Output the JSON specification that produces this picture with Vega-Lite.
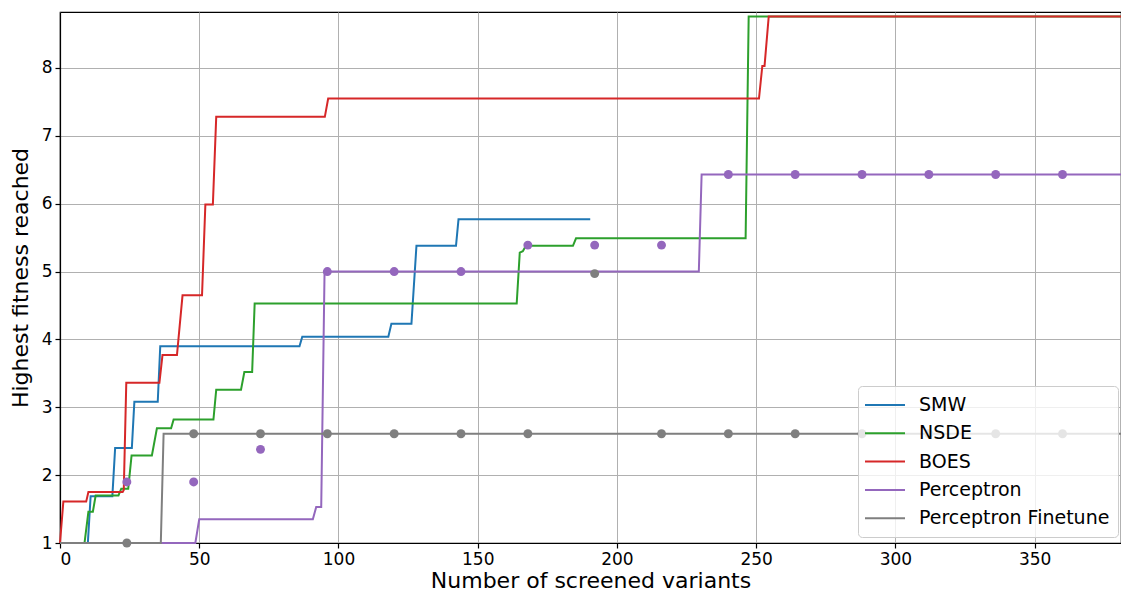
{
  "$schema": "https://vega.github.io/schema/vega-lite/v6.json",
  "autosize": {"type": "none"},
  "padding": {"left": 60, "top": 12, "right": 0, "bottom": 53},
  "width": 1061,
  "height": 531,
  "background": "white",
  "config": {
    "view": {"stroke": "black", "strokeWidth": 1.2},
    "axis": {
      "labelFont": "DejaVu Sans", "labelFontSize": 17, "labelColor": "black",
      "titleFont": "DejaVu Sans", "titleFontSize": 22, "titleFontWeight": "normal", "titleColor": "black",
      "domainColor": "black", "domainWidth": 1.2, "tickColor": "black", "tickSize": 5, "tickWidth": 1.2,
      "gridColor": "#b0b0b0", "gridWidth": 1, "gridOpacity": 1, "labelPadding": 3
    },
    "legend": {
      "labelFont": "DejaVu Sans", "labelFontSize": 19, "labelColor": "black", "labelLimit": 400
    }
  },
  "datasets": {
    "lines": [
      {"method": "SMW", "x": 0, "y": 1}, {"method": "SMW", "x": 10, "y": 1}, {"method": "SMW", "x": 11, "y": 1.69},
      {"method": "SMW", "x": 18.8, "y": 1.69}, {"method": "SMW", "x": 19.8, "y": 2.4}, {"method": "SMW", "x": 25.8, "y": 2.4},
      {"method": "SMW", "x": 26.7, "y": 3.08}, {"method": "SMW", "x": 35.1, "y": 3.08}, {"method": "SMW", "x": 36, "y": 3.9},
      {"method": "SMW", "x": 86, "y": 3.9}, {"method": "SMW", "x": 87, "y": 4.04}, {"method": "SMW", "x": 117.9, "y": 4.04},
      {"method": "SMW", "x": 119, "y": 4.23}, {"method": "SMW", "x": 126.2, "y": 4.23}, {"method": "SMW", "x": 128, "y": 5.38},
      {"method": "SMW", "x": 142.2, "y": 5.38}, {"method": "SMW", "x": 143.1, "y": 5.77}, {"method": "SMW", "x": 190.4, "y": 5.77},

      {"method": "NSDE", "x": 0, "y": 1}, {"method": "NSDE", "x": 8.8, "y": 1}, {"method": "NSDE", "x": 10.2, "y": 1.46},
      {"method": "NSDE", "x": 11.8, "y": 1.46}, {"method": "NSDE", "x": 12.8, "y": 1.7}, {"method": "NSDE", "x": 21, "y": 1.7},
      {"method": "NSDE", "x": 22, "y": 1.8}, {"method": "NSDE", "x": 24.5, "y": 1.8}, {"method": "NSDE", "x": 25.7, "y": 2.29},
      {"method": "NSDE", "x": 33, "y": 2.29}, {"method": "NSDE", "x": 34.8, "y": 2.69}, {"method": "NSDE", "x": 39.9, "y": 2.69},
      {"method": "NSDE", "x": 40.8, "y": 2.82}, {"method": "NSDE", "x": 55.1, "y": 2.82}, {"method": "NSDE", "x": 56.1, "y": 3.26},
      {"method": "NSDE", "x": 65, "y": 3.26}, {"method": "NSDE", "x": 66.2, "y": 3.52}, {"method": "NSDE", "x": 69, "y": 3.52},
      {"method": "NSDE", "x": 69.9, "y": 4.53}, {"method": "NSDE", "x": 164, "y": 4.53}, {"method": "NSDE", "x": 165.1, "y": 5.28},
      {"method": "NSDE", "x": 166.2, "y": 5.3}, {"method": "NSDE", "x": 167.3, "y": 5.38}, {"method": "NSDE", "x": 184.2, "y": 5.38},
      {"method": "NSDE", "x": 185.3, "y": 5.49}, {"method": "NSDE", "x": 246.2, "y": 5.49}, {"method": "NSDE", "x": 247.3, "y": 8.76},
      {"method": "NSDE", "x": 381, "y": 8.76},

      {"method": "BOES", "x": 0, "y": 1}, {"method": "BOES", "x": 1.2, "y": 1.61}, {"method": "BOES", "x": 9.4, "y": 1.61},
      {"method": "BOES", "x": 10.2, "y": 1.75}, {"method": "BOES", "x": 22.5, "y": 1.75}, {"method": "BOES", "x": 22.9, "y": 1.78},
      {"method": "BOES", "x": 23.8, "y": 3.36}, {"method": "BOES", "x": 35.7, "y": 3.36}, {"method": "BOES", "x": 36.8, "y": 3.77},
      {"method": "BOES", "x": 42, "y": 3.77}, {"method": "BOES", "x": 44, "y": 4.65}, {"method": "BOES", "x": 51, "y": 4.65},
      {"method": "BOES", "x": 52.2, "y": 5.99}, {"method": "BOES", "x": 54.9, "y": 5.99}, {"method": "BOES", "x": 56.1, "y": 7.28},
      {"method": "BOES", "x": 95.1, "y": 7.28}, {"method": "BOES", "x": 96.3, "y": 7.55}, {"method": "BOES", "x": 251, "y": 7.55},
      {"method": "BOES", "x": 252.2, "y": 8.03}, {"method": "BOES", "x": 253, "y": 8.03}, {"method": "BOES", "x": 254.5, "y": 8.76},
      {"method": "BOES", "x": 381, "y": 8.76},

      {"method": "Perceptron", "x": 0, "y": 1}, {"method": "Perceptron", "x": 48.6, "y": 1}, {"method": "Perceptron", "x": 50, "y": 1.35},
      {"method": "Perceptron", "x": 90.8, "y": 1.35}, {"method": "Perceptron", "x": 92, "y": 1.53}, {"method": "Perceptron", "x": 93.8, "y": 1.53},
      {"method": "Perceptron", "x": 95, "y": 5.0}, {"method": "Perceptron", "x": 229.4, "y": 5.0}, {"method": "Perceptron", "x": 230.4, "y": 6.43},
      {"method": "Perceptron", "x": 381, "y": 6.43},

      {"method": "Perceptron Finetune", "x": 0, "y": 1}, {"method": "Perceptron Finetune", "x": 36.2, "y": 1},
      {"method": "Perceptron Finetune", "x": 37.2, "y": 2.61}, {"method": "Perceptron Finetune", "x": 381, "y": 2.61}
    ],
    "points": [
      {"method": "Perceptron", "x": 24, "y": 1.9}, {"method": "Perceptron", "x": 48, "y": 1.9}, {"method": "Perceptron", "x": 72, "y": 2.38},
      {"method": "Perceptron", "x": 96, "y": 5.0}, {"method": "Perceptron", "x": 120, "y": 5.0}, {"method": "Perceptron", "x": 144, "y": 5.0},
      {"method": "Perceptron", "x": 168, "y": 5.39}, {"method": "Perceptron", "x": 192, "y": 5.39}, {"method": "Perceptron", "x": 216, "y": 5.39},
      {"method": "Perceptron", "x": 240, "y": 6.43}, {"method": "Perceptron", "x": 264, "y": 6.43}, {"method": "Perceptron", "x": 288, "y": 6.43},
      {"method": "Perceptron", "x": 312, "y": 6.43}, {"method": "Perceptron", "x": 336, "y": 6.43}, {"method": "Perceptron", "x": 360, "y": 6.43},
      {"method": "Perceptron Finetune", "x": 24, "y": 1.0}, {"method": "Perceptron Finetune", "x": 48, "y": 2.61}, {"method": "Perceptron Finetune", "x": 72, "y": 2.61},
      {"method": "Perceptron Finetune", "x": 96, "y": 2.61}, {"method": "Perceptron Finetune", "x": 120, "y": 2.61}, {"method": "Perceptron Finetune", "x": 144, "y": 2.61},
      {"method": "Perceptron Finetune", "x": 168, "y": 2.61}, {"method": "Perceptron Finetune", "x": 192, "y": 4.97}, {"method": "Perceptron Finetune", "x": 216, "y": 2.61},
      {"method": "Perceptron Finetune", "x": 240, "y": 2.61}, {"method": "Perceptron Finetune", "x": 264, "y": 2.61}, {"method": "Perceptron Finetune", "x": 288, "y": 2.61},
      {"method": "Perceptron Finetune", "x": 312, "y": 2.61}, {"method": "Perceptron Finetune", "x": 336, "y": 2.61}, {"method": "Perceptron Finetune", "x": 360, "y": 2.61}
    ]
  },
  "encoding": {
    "x": {
      "field": "x", "type": "quantitative",
      "scale": {"domain": [0, 381], "nice": false, "zero": false},
      "axis": {"values": [0, 50, 100, 150, 200, 250, 300, 350], "title": "Number of screened variants", "titlePadding": 3}
    },
    "y": {
      "field": "y", "type": "quantitative",
      "scale": {"domain": [1, 8.825], "nice": false, "zero": false},
      "axis": {"values": [1, 2, 3, 4, 5, 6, 7, 8], "title": "Highest fitness reached", "titlePadding": 9}
    }
  },
  "layer": [
    {
      "data": {"name": "lines"},
      "mark": {"type": "line", "strokeWidth": 2, "interpolate": "linear"},
      "encoding": {
        "color": {
          "field": "method", "type": "nominal",
          "scale": {
            "domain": ["SMW", "NSDE", "BOES", "Perceptron", "Perceptron Finetune"],
            "range": ["#1f77b4", "#2ca02c", "#d62728", "#9467bd", "#7f7f7f"]
          },
          "legend": {
            "title": null, "orient": "none", "legendX": 798, "legendY": 374,
            "symbolType": "M-2,0L2,0", "symbolSize": 400, "symbolStrokeWidth": 2, "symbolOffset": 8,
            "labelOffset": 23, "rowPadding": 7.3, "padding": 8,
            "fillColor": "rgba(255,255,255,0.8)", "strokeColor": "#cccccc", "cornerRadius": 4
          }
        },
        "order": {"field": "x", "type": "quantitative"}
      }
    },
    {
      "data": {"name": "points"},
      "mark": {"type": "circle", "size": 80, "opacity": 1},
      "encoding": {
        "color": {
          "field": "method", "type": "nominal",
          "scale": {
            "domain": ["SMW", "NSDE", "BOES", "Perceptron", "Perceptron Finetune"],
            "range": ["#1f77b4", "#2ca02c", "#d62728", "#9467bd", "#7f7f7f"]
          },
          "legend": null
        }
      }
    }
  ]
}
